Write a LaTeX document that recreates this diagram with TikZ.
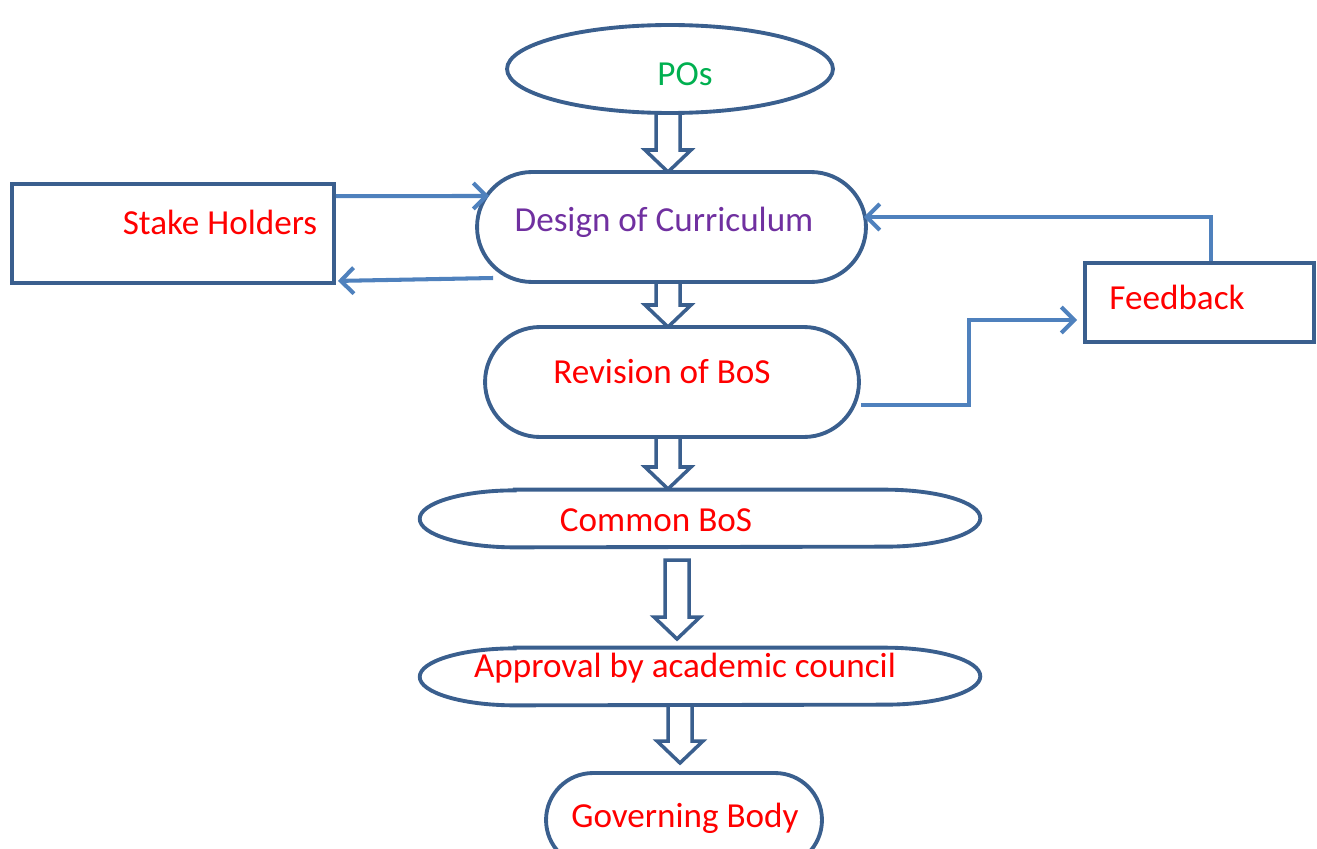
\documentclass[tikz,border=0pt]{standalone}
\usepackage{fontspec}
\setmainfont{Carlito}
\usetikzlibrary{calc,arrows.meta,shapes.geometric}
\definecolor{shapeblue}{RGB}{58,95,142}
\definecolor{connblue}{RGB}{79,129,189}
\definecolor{pogreen}{RGB}{0,176,80}
\definecolor{dpurple}{RGB}{112,48,160}
\definecolor{tred}{RGB}{255,0,0}
\tikzset{
  box/.style={draw=shapeblue,line width=2.2pt,fill=white,inner sep=0pt},
  stadium/.style={box,rounded corners=#1},
  ghost/.style={inner sep=0pt,draw=none},
  outline/.style={draw=shapeblue,line width=2.2pt,fill=white},
  txt/.style={inner sep=0pt,font=\fontsize{20}{24}\selectfont,text=tred},
  conn/.style={draw=connblue,line width=2.3pt,-{Straight Barb[length=0.26cm,width=0.52cm,line width=2.3pt]}},
  hollow/.style={draw=shapeblue,line width=2pt,fill=white,line join=miter}
}
\newcommand\harrow[3]{%
  \draw[hollow] ({#1-12},#2) -- ({#1+12},#2) -- ({#1+12},{#3-22}) -- ({#1+23},{#3-22})
    -- (#1,#3) -- ({#1-23},{#3-22}) -- ({#1-12},{#3-22}) -- cycle;}
% pill with elliptical ends: node name, x radius, y radius
\newcommand\pillpath[3]{%
  \draw[outline] ($(#1.north west)+(#2,0)$) -- ($(#1.north east)+(-#2,0)$)
    arc[start angle=-90,end angle=90,x radius=#2,y radius=#3]
    -- ($(#1.south west)+(#2,0)$)
    arc[start angle=90,end angle=270,x radius=#2,y radius=#3] -- cycle;}
\begin{document}
\begin{tikzpicture}[x=0.02cm,y=-0.02cm]
\useasboundingbox (0,0) rectangle (1317,848);
\clip (0,0) rectangle (1317,848);
% hollow arrows (behind shapes)
\harrow{668}{112}{172}
\harrow{668}{280}{327}
\harrow{668}{437}{489}
\harrow{677}{560}{639}
\harrow{680}{704}{763}
% shapes
\node[box,ellipse,minimum width=6.52cm,minimum height=1.76cm] (po) at (670,69) {};
\node[stadium=1.1cm,minimum width=7.78cm,minimum height=2.2cm] (des) at (671.5,227) {};
\node[box,minimum width=6.44cm,minimum height=1.98cm] (sh) at (173,233.5) {};
\node[stadium=1.1cm,minimum width=7.48cm,minimum height=2.2cm] (rev) at (672,382) {};
\node[box,minimum width=4.58cm,minimum height=1.58cm] (fb) at (1199.5,302.5) {};
\node[ghost,minimum width=11.2cm,minimum height=1.14cm] (cb) at (700,518.5) {};
\pillpath{cb}{95}{28.5}
\node[ghost,minimum width=11.2cm,minimum height=1.14cm] (ap) at (700,676.5) {};
\pillpath{ap}{95}{28.5}
\node[stadium=0.94cm,minimum width=5.52cm,minimum height=1.88cm] (gb) at (684,820) {};
% texts
\node[txt,text=pogreen] (tpo) at ($(po)+(15,5)$) {POs};
\node[txt,text=dpurple] (tdes) at ($(des)+(-7.5,-5)$) {Design of Curriculum};
\node[txt] (tsh) at ($(sh)+(47,-11.5)$) {Stake Holders};
\node[txt] (trev) at ($(rev)+(-10,-10)$) {Revision of BoS};
\node[txt] (tfb) at ($(fb)+(-22.5,-5.5)$) {Feedback};
\node[txt] (tcb) at ($(cb)+(-44,1.5)$) {Common BoS};
\node[txt] (tap) at ($(ap)+(-15,-8.5)$) {Approval by academic council};
\node[txt] (tgb) at ($(gb)+(1,-2)$) {Governing Body};
% connectors
\draw[conn] ($(sh.north east)+(0,14)$) -- ($(des.west)+(14,-31)$);
\draw[conn] ($(des.west)+(18,51)$) -- ($(sh.south east)+(2,-4)$);
\draw[conn] ($(rev.east)+(0,23)$) -- ++(108,0) |- ($(fb.west)+(-6,17.5)$);
\draw[conn] ($(fb.north)+(11.5,0)$) |- ($(des.east)+(-4,-10)$);
\end{tikzpicture}
\end{document}
